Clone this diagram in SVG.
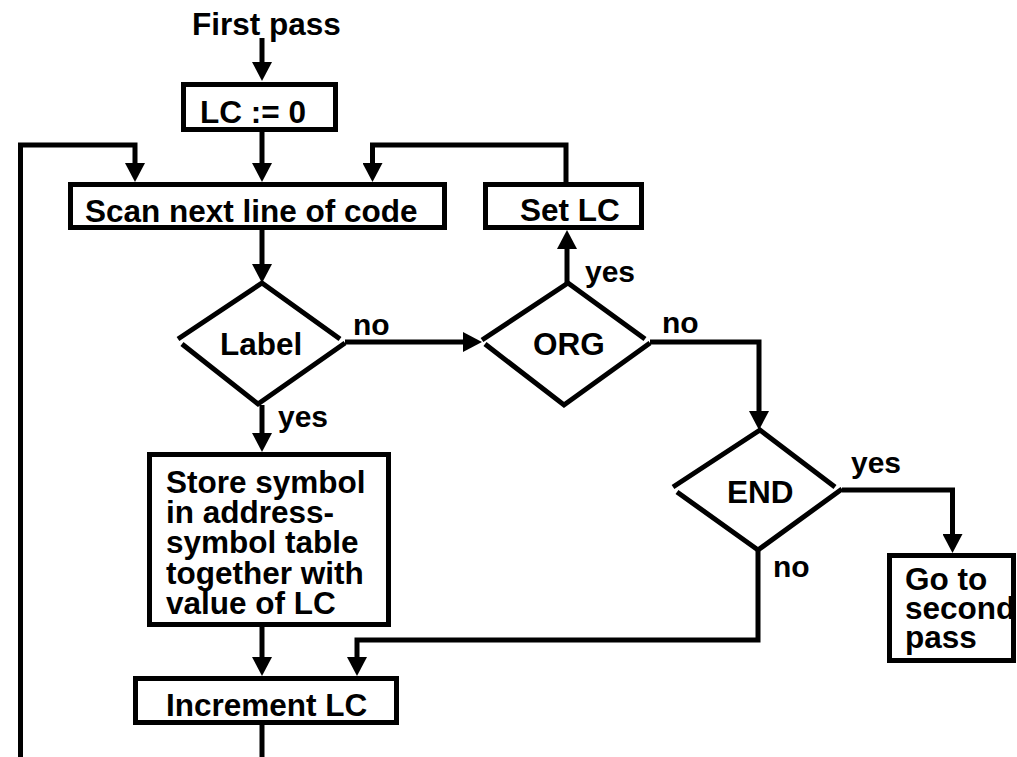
<svg xmlns="http://www.w3.org/2000/svg" width="1017" height="757" viewBox="0 0 1017 757">
<style>
  .box { fill: #fff; stroke: #000; stroke-width: 5; }
  .dia { fill: none; stroke: #000; stroke-width: 5; stroke-linejoin: miter; }
  .con { fill: none; stroke: #000; stroke-width: 5; stroke-linejoin: miter; stroke-linecap: butt; }
  .arr { marker-end: url(#ah); }
  text { font-family: "Liberation Sans", Arial, Helvetica, sans-serif; font-weight: bold; fill: #000; }
  .t { font-size: 31.5px; }
  .lbl { font-size: 30px; }
</style>
<defs>
  <marker id="ah" viewBox="0 0 19 20" refX="2" refY="10" markerWidth="19" markerHeight="20" markerUnits="userSpaceOnUse" orient="auto">
    <path d="M0,0 L19,10 L0,20 z" fill="#000"/>
  </marker>
</defs>
<rect width="1017" height="757" fill="#fff"/>

<g id="connectors">
  <path class="con arr" d="M262,38 V64"/>
  <path class="con arr" d="M262,132 V165"/>
  <path class="con arr" d="M20.5,757 V145 H135 V165"/>
  <path class="con arr" d="M566,185 V145 H372.5 V165"/>
  <path class="con arr" d="M262,230 V266"/>
  <path class="con arr" d="M567,283 V247"/>
  <path class="con arr" d="M345,342 H465"/>
  <path class="con arr" d="M650,342 H759 V413"/>
  <path class="con arr" d="M842,490 H952.5 V536"/>
  <path class="con arr" d="M758,550 V640 H357 V659"/>
  <path class="con arr" d="M262,405 V435"/>
  <path class="con arr" d="M262,627 V659"/>
  <path class="con" d="M262,725 V757"/>
</g>

<g id="start">
  <text class="t" x="192" y="35">First pass</text>
</g>

<g id="lc0">
  <rect class="box" x="183.5" y="84.5" width="152" height="45"/>
  <text class="t" x="200" y="123">LC := 0</text>
</g>

<g id="scan">
  <rect class="box" x="70.5" y="184.5" width="374" height="43"/>
  <text class="t" x="85" y="222">Scan next line of code</text>
</g>

<g id="setlc">
  <rect class="box" x="485.5" y="184.5" width="156" height="43"/>
  <text class="t" x="520" y="221">Set LC</text>
</g>

<g id="label">
  <polyline class="dia" points="178,339 262,283 340,339"/>
  <polyline class="dia" points="182,344 258,404 345,343"/>
  <text class="t" x="220" y="355">Label</text>
</g>

<g id="org">
  <polyline class="dia" points="482,340 568,283 645,339"/>
  <polyline class="dia" points="485,344 564,405 650,343"/>
  <text class="t" x="533" y="355">ORG</text>
</g>

<g id="end">
  <polyline class="dia" points="673,487 760,430 835,487"/>
  <polyline class="dia" points="677,492 758,550 842,489"/>
  <text class="t" x="727" y="503">END</text>
</g>

<g id="store">
  <rect class="box" x="149.5" y="454.5" width="239" height="170"/>
  <text class="t" x="166" y="493">Store symbol</text>
  <text class="t" x="166" y="523">in address-</text>
  <text class="t" x="166" y="553">symbol table</text>
  <text class="t" x="166" y="584">together with</text>
  <text class="t" x="166" y="614">value of LC</text>
</g>

<g id="goto">
  <rect class="box" x="889.5" y="555.5" width="124" height="105"/>
  <text class="t" x="905" y="590">Go to</text>
  <text class="t" x="905" y="619">second</text>
  <text class="t" x="905" y="648">pass</text>
</g>

<g id="increment">
  <rect class="box" x="135.5" y="678.5" width="261" height="44"/>
  <text class="t" x="166" y="716">Increment LC</text>
</g>

<g id="edge-labels">
  <text class="lbl" x="585" y="282">yes</text>
  <text class="lbl" x="353" y="335">no</text>
  <text class="lbl" x="662" y="333">no</text>
  <text class="lbl" x="278" y="427">yes</text>
  <text class="lbl" x="851" y="473">yes</text>
  <text class="lbl" x="773" y="577">no</text>
</g>
</svg>
